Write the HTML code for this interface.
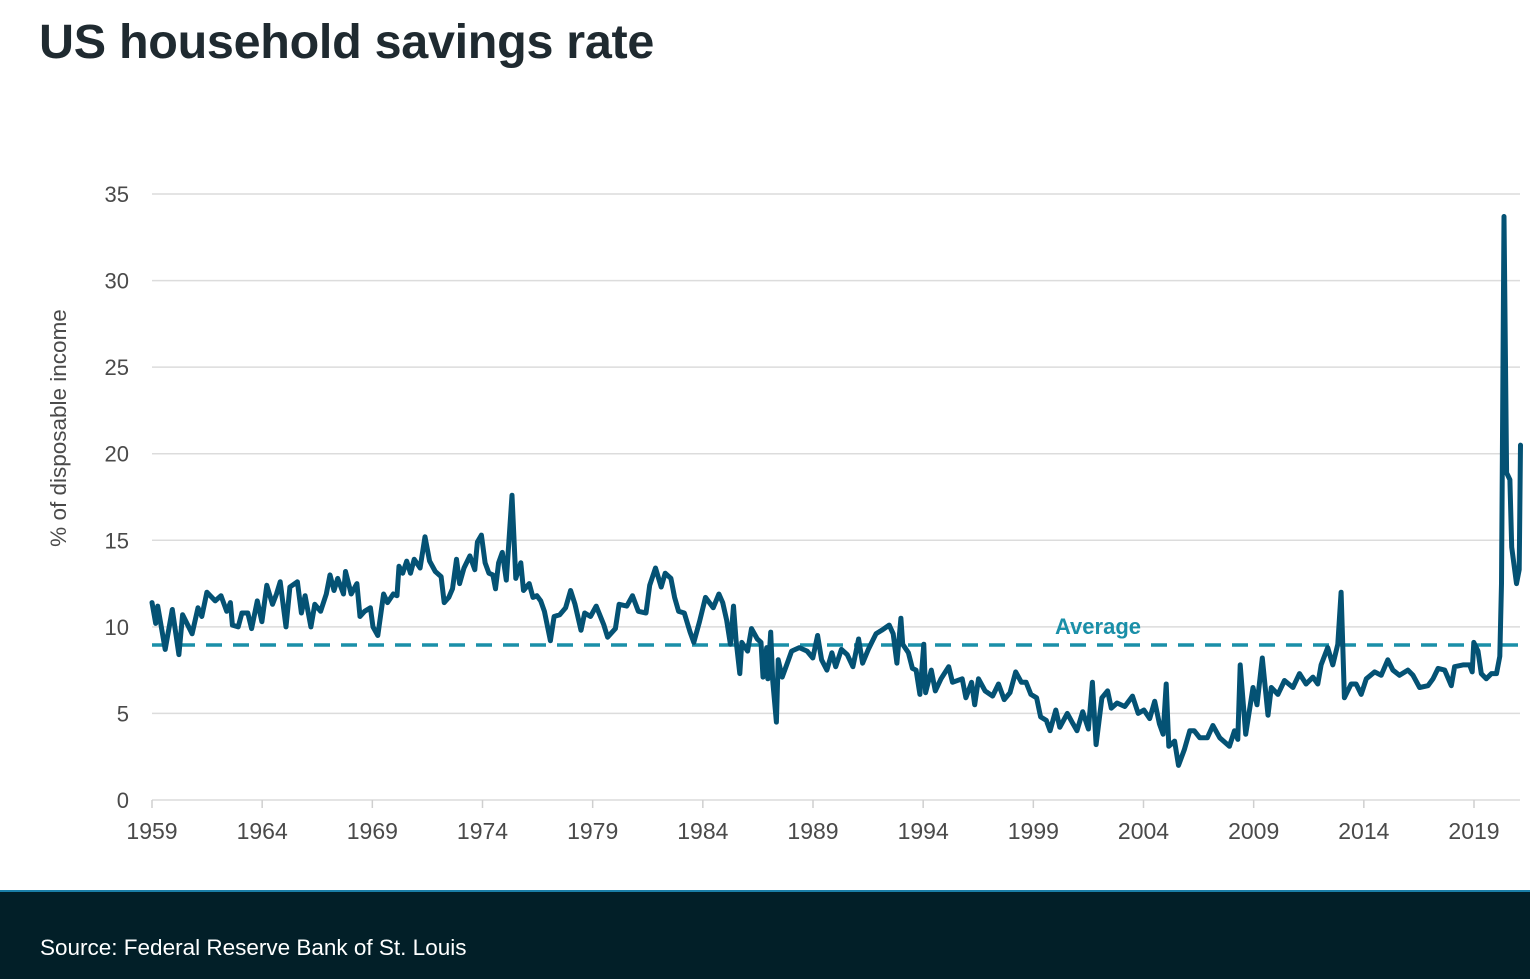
<!DOCTYPE html>
<html><head><meta charset="utf-8"><style>
html,body{margin:0;padding:0;background:#fff;}
body{width:1530px;height:977px;position:relative;overflow:hidden;font-family:"Liberation Sans",sans-serif;}
#title{position:absolute;left:39px;top:14px;font-size:48.5px;font-weight:bold;color:#1f2a30;letter-spacing:-0.3px;margin:0;}
#footer{position:absolute;left:0;top:890px;width:1530px;height:87px;background:#021f28;border-top:2px solid #1a7fa8;}
#source{position:absolute;left:40px;top:43px;font-size:22.5px;color:#fff;}
svg{position:absolute;left:0;top:0;}
</style></head><body>
<h1 id="title">US household savings rate</h1>
<svg id="chart" width="1530" height="890"></svg>
<div id="footer"><div id="source">Source: Federal Reserve Bank of St. Louis</div></div>
<script>
const yTicks=[0,5,10,15,20,25,30,35];
const xTicks=[1959,1964,1969,1974,1979,1984,1989,1994,1999,2004,2009,2014,2019];
const averageValue=8.95;
const years=[1959.0,1959.17,1959.26,1959.6,1959.92,1960.22,1960.39,1960.82,1961.09,1961.26,1961.49,1961.87,1962.13,1962.39,1962.56,1962.65,1962.91,1963.08,1963.35,1963.52,1963.78,1963.99,1964.21,1964.47,1964.65,1964.82,1965.08,1965.26,1965.6,1965.78,1965.95,1966.21,1966.39,1966.65,1966.91,1967.08,1967.26,1967.43,1967.69,1967.78,1968.04,1968.3,1968.44,1968.65,1968.91,1969.03,1969.25,1969.51,1969.69,1969.95,1970.12,1970.21,1970.38,1970.56,1970.73,1970.9,1971.17,1971.39,1971.6,1971.86,1972.12,1972.26,1972.47,1972.64,1972.82,1972.96,1973.16,1973.43,1973.65,1973.77,1973.95,1974.12,1974.29,1974.47,1974.59,1974.73,1974.9,1975.08,1975.34,1975.51,1975.74,1975.86,1976.12,1976.29,1976.47,1976.64,1976.81,1977.08,1977.25,1977.51,1977.77,1978.0,1978.2,1978.47,1978.64,1978.9,1979.16,1979.51,1979.68,1980.03,1980.2,1980.55,1980.81,1981.07,1981.42,1981.59,1981.85,1982.11,1982.29,1982.55,1982.72,1982.9,1983.16,1983.42,1983.59,1983.85,1984.12,1984.47,1984.73,1984.9,1985.08,1985.25,1985.39,1985.51,1985.68,1985.77,1986.03,1986.21,1986.47,1986.64,1986.73,1986.9,1986.95,1987.08,1987.17,1987.34,1987.42,1987.6,1987.86,1988.03,1988.38,1988.73,1988.99,1989.21,1989.39,1989.63,1989.86,1990.03,1990.29,1990.55,1990.81,1991.07,1991.25,1991.51,1991.86,1992.12,1992.46,1992.64,1992.81,1992.99,1993.07,1993.33,1993.51,1993.68,1993.85,1994.03,1994.11,1994.37,1994.55,1994.81,1995.16,1995.33,1995.77,1995.94,1996.2,1996.34,1996.51,1996.81,1997.15,1997.42,1997.68,1997.94,1998.2,1998.46,1998.67,1998.89,1999.15,1999.33,1999.59,1999.76,2000.02,2000.2,2000.54,2000.8,2000.98,2001.24,2001.5,2001.68,2001.85,2002.11,2002.37,2002.54,2002.8,2003.15,2003.5,2003.76,2004.02,2004.28,2004.51,2004.72,2004.89,2005.03,2005.15,2005.41,2005.59,2005.85,2006.1,2006.3,2006.55,2006.9,2007.15,2007.46,2007.9,2008.13,2008.28,2008.39,2008.64,2008.97,2009.15,2009.39,2009.65,2009.8,2010.1,2010.4,2010.78,2011.08,2011.38,2011.69,2011.91,2012.06,2012.36,2012.59,2012.82,2012.97,2013.12,2013.42,2013.65,2013.88,2014.11,2014.49,2014.79,2015.09,2015.32,2015.62,2016.0,2016.23,2016.53,2016.91,2017.14,2017.37,2017.67,2017.97,2018.12,2018.5,2018.8,2018.92,2018.99,2019.18,2019.33,2019.56,2019.79,2020.02,2020.17,2020.25,2020.36,2020.48,2020.63,2020.71,2020.93,2021.05,2021.11];
const rates=[11.4,10.2,11.2,8.7,11.0,8.4,10.7,9.6,11.1,10.6,12.0,11.5,11.8,10.9,11.4,10.1,10.0,10.8,10.8,9.9,11.5,10.3,12.4,11.3,11.9,12.6,10.0,12.3,12.6,10.8,11.8,10.0,11.3,10.9,11.9,13.0,12.1,12.8,11.9,13.2,11.9,12.5,10.6,10.9,11.1,10.0,9.5,11.9,11.4,11.9,11.8,13.5,13.1,13.8,13.1,13.9,13.4,15.2,13.8,13.2,12.9,11.4,11.7,12.2,13.9,12.5,13.4,14.1,13.3,14.9,15.3,13.7,13.1,13.0,12.2,13.7,14.3,12.7,17.6,12.8,13.7,12.1,12.5,11.7,11.8,11.5,10.9,9.2,10.6,10.7,11.1,12.1,11.3,9.8,10.8,10.6,11.2,10.1,9.4,9.9,11.3,11.2,11.8,10.9,10.8,12.4,13.4,12.3,13.1,12.8,11.7,10.9,10.8,9.7,9.1,10.3,11.7,11.1,11.9,11.4,10.4,9.0,11.2,9.2,7.3,9.1,8.6,9.9,9.3,9.1,7.1,8.8,7.0,9.7,6.9,4.5,8.1,7.1,8.0,8.6,8.8,8.6,8.2,9.5,8.1,7.5,8.5,7.7,8.7,8.4,7.7,9.3,7.9,8.7,9.6,9.8,10.1,9.6,7.9,10.5,9.0,8.5,7.6,7.5,6.1,9.0,6.2,7.5,6.3,7.0,7.7,6.8,7.0,5.9,6.8,5.5,7.0,6.3,6.0,6.7,5.8,6.2,7.4,6.8,6.8,6.1,5.9,4.8,4.6,4.0,5.2,4.2,5.0,4.4,4.0,5.1,4.1,6.8,3.2,5.9,6.3,5.3,5.6,5.4,6.0,5.0,5.2,4.7,5.7,4.4,3.8,6.7,3.1,3.4,2.0,2.9,4.0,4.0,3.6,3.6,4.3,3.6,3.1,4.0,3.5,7.8,3.8,6.5,5.5,8.2,4.9,6.5,6.1,6.9,6.5,7.3,6.7,7.1,6.7,7.8,8.8,7.8,9.0,12.0,5.9,6.7,6.7,6.1,7.0,7.4,7.2,8.1,7.5,7.2,7.5,7.2,6.5,6.6,7.0,7.6,7.5,6.6,7.7,7.8,7.8,7.4,9.1,8.6,7.3,7.0,7.3,7.3,8.3,12.5,33.7,18.9,18.5,14.6,12.5,13.3,20.5];

const NS='http://www.w3.org/2000/svg';
const svg=document.getElementById('chart');
const x0=152,x1=1474,yBase=800,yTop=194;
function xScale(yr){return x0+(yr-1959)*(x1-x0)/60;}
function yScale(v){return yBase-(v/35)*(yBase-yTop);}
function mk(tag,attrs,parent){const e=document.createElementNS(NS,tag);for(const k in attrs)e.setAttribute(k,attrs[k]);(parent||svg).appendChild(e);return e;}

yTicks.forEach(v=>{
  const g=mk('line',{x1:x0,x2:1520,y1:yScale(v),y2:yScale(v),stroke:'#dcdcdc','stroke-width':1.5});
  
  
  const t=mk('text',{x:129,y:yScale(v)+8,'text-anchor':'end','font-size':22,fill:'#4a4a4a','font-family':'Liberation Sans, sans-serif'});
  t.textContent=v;
  
  
});
xTicks.forEach(yr=>{
  const tk=mk('line',{x1:xScale(yr),x2:xScale(yr),y1:yBase,y2:yBase+8,stroke:'#cfcfcf','stroke-width':1.5});
  
  
  const t=mk('text',{x:xScale(yr),y:yBase+39,'text-anchor':'middle','font-size':23,fill:'#4a4a4a','font-family':'Liberation Sans, sans-serif'});
  t.textContent=yr;
  
  
});
const yt=mk('text',{x:0,y:0,transform:'translate(66,428) rotate(-90)','text-anchor':'middle','font-size':22.5,fill:'#4a4a4a','font-family':'Liberation Sans, sans-serif'});
yt.textContent='% of disposable income';



const avg=mk('line',{x1:x0,x2:1520,y1:yScale(averageValue),y2:yScale(averageValue),stroke:'#1a8fa8','stroke-width':3.5,'stroke-dasharray':'16,11'});


const al=mk('text',{x:1098,y:yScale(averageValue)-11,'text-anchor':'middle','font-size':22,'font-weight':'bold',fill:'#1a8fa8','font-family':'Liberation Sans, sans-serif'});
al.textContent='Average';



let d='';
years.forEach((yr,i)=>{d+=(i?'L':'M')+xScale(yr).toFixed(1)+','+yScale(rates[i]).toFixed(1);});
const line=mk('path',{d:d,fill:'none',stroke:'#045274','stroke-width':5,'stroke-linejoin':'round','stroke-linecap':'round'});


</script>
</body></html>
